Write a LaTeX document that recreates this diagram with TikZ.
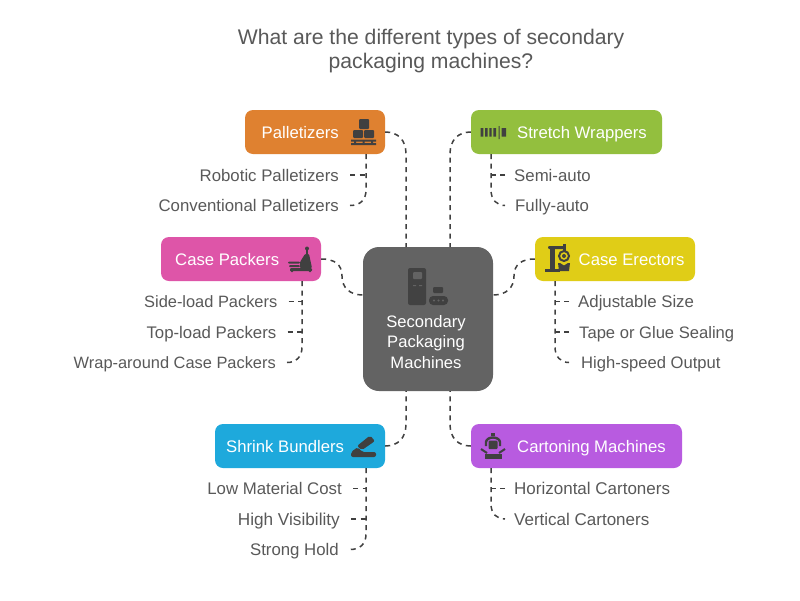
\documentclass[tikz,border=0pt]{standalone}
\usepackage{fontspec}
\setmainfont{Liberation Sans}
\definecolor{txt}{HTML}{595959}
\definecolor{ink}{HTML}{404040}
\definecolor{cOrange}{HTML}{DF8130}
\definecolor{cGreen}{HTML}{93BF3E}
\definecolor{cPink}{HTML}{DE55A8}
\definecolor{cYellow}{HTML}{E0CD17}
\definecolor{cBlue}{HTML}{1EA9DC}
\definecolor{cPurple}{HTML}{B85BE0}
\definecolor{cCentre}{HTML}{636363}
\tikzset{
 box/.style={rounded corners=8pt,inner sep=0pt,minimum height=44pt},
 boxtext/.style={text=white,inner sep=0pt,text height=12pt,text depth=0pt,font=\fontsize{16.7}{20}\selectfont},
 itemL/.style={text=txt,anchor=east,inner sep=0pt,inner xsep=11pt,text height=12pt,text depth=0pt,font=\fontsize{16.8}{20}\selectfont},
 itemR/.style={text=txt,anchor=west,inner sep=0pt,inner xsep=9pt,text height=12pt,text depth=0pt,font=\fontsize{16.8}{20}\selectfont},
 conn/.style={draw=ink,line width=1.5pt,dash pattern=on 5pt off 4.5pt},
 icon/.style={fill=ink,draw=none},
}
\begin{document}
\begin{tikzpicture}[x=1pt,y=-1pt]
\useasboundingbox (0,0) rectangle (800,600);
\fill[white] (0,0) rectangle (800,600);
\node[text=txt,align=center,font=\fontsize{21.15}{24}\selectfont] (title) at (431,51) {What are the different types of secondary\\packaging machines?};
\node[box,fill=cCentre,rounded corners=16pt,minimum width=130pt,minimum height=144pt] (c) at (428,319) {};
\node[box,fill=cOrange,minimum width=140pt] (pal) at (315,132) {};
\node[box,fill=cGreen,minimum width=191pt] (str) at (566.5,132) {};
\node[box,fill=cPink,minimum width=160pt] (pac) at (241,259) {};
\node[box,fill=cYellow,minimum width=160pt] (ere) at (615,259) {};
\node[box,fill=cBlue,minimum width=170pt] (shr) at (300,446) {};
\node[box,fill=cPurple,minimum width=211pt] (car) at (576.5,446) {};
\node[boxtext,anchor=west] (palT) at (261.5,132) {Palletizers};
\node[boxtext,anchor=west] (strT) at (517,132) {Stretch Wrappers};
\node[boxtext,anchor=west] (pacT) at (175,259) {Case Packers};
\node[boxtext,anchor=west] (ereT) at (578.5,259) {Case Erectors};
\node[boxtext,anchor=west] (shrT) at (226,446) {Shrink Bundlers};
\node[boxtext,anchor=west] (carT) at (517,446) {Cartoning Machines};
\node[text=white,align=center,inner sep=0pt,font=\fontsize{16.6}{20.4}\selectfont] (cT) at (426,342) {Secondary\\Packaging\\Machines};
% items
\node[itemL] (p1) at (350,175) {Robotic Palletizers};
\node[itemL] (p2) at (350,205.5) {Conventional Palletizers};
\node[itemR] (s1) at (505,175) {Semi-auto};
\node[itemR,inner xsep=10pt] (s2) at (505,205.5) {Fully-auto};
\node[itemL,font=\fontsize{16.4}{20}\selectfont] (k1) at (288.5,301.5) {Side-load Packers};
\node[itemL] (k2) at (287.5,332) {Top-load Packers};
\node[itemL,font=\fontsize{16.4}{20}\selectfont] (k3) at (287,362.5) {Wrap-around Case Packers};
\node[itemR] (e1) at (569,301.5) {Adjustable Size};
\node[itemR,inner xsep=10pt,font=\fontsize{16.6}{20}\selectfont] (e2) at (569,332) {Tape or Glue Sealing};
\node[itemR,inner xsep=12pt,font=\fontsize{16.6}{20}\selectfont] (e3) at (569,362.5) {High-speed Output};
\node[itemL] (b1) at (353,488.5) {Low Material Cost};
\node[itemL,font=\fontsize{17.2}{20}\selectfont] (b2) at (351,519) {High Visibility};
\node[itemL] (b3) at (350,549.5) {Strong Hold};
\node[itemR,font=\fontsize{17}{20}\selectfont] (h1) at (505,488.5) {Horizontal Cartoners};
\node[itemR,font=\fontsize{17}{20}\selectfont] (h2) at (505,519) {Vertical Cartoners};
% connector anchors
\coordinate (cA) at (406,247);
\coordinate (cB) at (450,247);
\coordinate (cC) at (406,391);
\coordinate (cD) at (450,391);
\coordinate (cW) at (363,295);
\coordinate (cE) at (493,295);
\coordinate (palS) at (366,154);
\coordinate (strS) at (491,154);
\coordinate (pacS) at (302,281);
\coordinate (ereS) at (555,281);
\coordinate (shrS) at (366,468);
\coordinate (carS) at (491,468);
% main connectors
\draw[conn] (pal.east) .. controls (398,132) and (406,140) .. (406,154) -- (cA);
\draw[conn] (str.west) .. controls (458,132) and (450,140) .. (450,154) -- (cB);
\draw[conn] (pac.east) .. controls (334,259) and (342,264) .. (342,276) .. controls (342,288) and (350,295) .. (cW);
\draw[conn] (ere.west) .. controls (522,259) and (514,264) .. (514,276) .. controls (514,288) and (506,295) .. (cE);
\draw[conn] (shr.east) .. controls (398,446) and (406,438) .. (406,424) -- (cC);
\draw[conn] (car.west) .. controls (458,446) and (450,438) .. (450,424) -- (cD);
% child connectors
\draw[conn] (palS) -- (366,190) .. controls (366,200) and (360,205.5) .. (p2.east);
\draw[conn] (p1.east) -- (366,175);
\draw[conn] (strS) -- (491,190) .. controls (491,200) and (497,205.5) .. (s2.west);
\draw[conn] (s1.west) -- (491,175);
\draw[conn] (pacS) -- (302,347) .. controls (302,357) and (296,362.5) .. (k3.east);
\draw[conn] (k1.east) -- (302,301.5);
\draw[conn] (k2.east) -- (302,332);
\draw[conn] (ereS) -- (555,347) .. controls (555,357) and (561,362.5) .. (e3.west);
\draw[conn] (e1.west) -- (555,301.5);
\draw[conn] (e2.west) -- (555,332);
\draw[conn] (shrS) -- (366,534) .. controls (366,544) and (360,549.5) .. (b3.east);
\draw[conn] (b1.east) -- (366,488.5);
\draw[conn] (b2.east) -- (366,519);
\draw[conn] (carS) -- (491,504) .. controls (491,514) and (497,519) .. (h2.west);
\draw[conn] (h1.west) -- (491,488.5);
% icon: palletizers
\fill[icon,rounded corners=1pt] (359,119) rectangle (369,129);
\fill[icon,rounded corners=1pt] (353,130) rectangle (363,138);
\fill[icon,rounded corners=1pt] (364,130) rectangle (374,138);
\fill[icon] (351,139.5) rectangle (376,141.5) (351,143) rectangle (376,145);
\fill[icon] (354,141) rectangle (356,144) (362.5,141) rectangle (364.5,144) (371,141) rectangle (373,144);
% icon: stretch
\fill[icon] (480.7,128) rectangle (483.3,136.7) (485,128) rectangle (487.7,136.7) (489.3,128) rectangle (491.7,136.7) (493.3,128) rectangle (496,136.7) (498.6,126) rectangle (499.6,139) (501.7,128) rectangle (506,136.7);
% icon: case packers
\fill[icon] (307,248.5) circle (2);
\fill[icon] (305.8,250) rectangle (308.2,255);
\fill[icon,rounded corners=1pt] (305,254) -- (309,254) -- (312,268) -- (300,268) -- (300,262) -- cycle;
\fill[icon,rounded corners=1pt] (288,261.5) rectangle (300,263.5) (289,265) rectangle (300,267);
\fill[icon,rounded corners=1pt] (290,268) rectangle (312,271);
\fill[icon] (292,270.5) circle (1.8) (310,270.5) circle (1.8);
% icon: case erectors
\fill[icon] (545,269) rectangle (560,271.5);
\fill[icon] (550,248) rectangle (554.5,270);
\fill[icon,rounded corners=1pt] (548,246) rectangle (565,249);
\draw[ink,line width=2pt] (564,256) circle (5);
\fill[icon] (564,256) circle (2);
\fill[icon] (562.5,244) rectangle (565.5,251);
\fill[icon] (558,263) -- (560,263) -- (564,265.5) -- (568,263) -- (570,263) -- (569,271) -- (559,271) -- cycle;
% icon: shrink
\fill[icon,rounded corners=2pt] (351,452) -- (358,447) -- (362,452) -- (376,452) -- (376,457) -- (351,457) -- cycle;
\fill[icon,rounded corners=2pt] (357,446) -- (370,435.5) -- (375,441) -- (362,450) -- cycle;
% icon: cartoning
\draw[ink,line width=2.4pt] (486,446) -- (486,442) .. controls (487,436) and (499,436) .. (500,442) -- (500,446);
\fill[icon] (491,432.5) rectangle (495,436);
\fill[icon,rounded corners=1pt] (488.5,440.5) rectangle (497.5,449);
\fill[icon] (485,454) rectangle (502,458.5);
\draw[ink,line width=2pt] (481,449) -- (487,453) (505,449) -- (499,453);
% icon: centre
\fill[ink!95!cCentre,rounded corners=2pt] (408,268) rectangle (426,305);
\fill[cCentre,rounded corners=1pt] (413,272) rectangle (422,279);
\fill[cCentre] (413,285) rectangle (416,286) (419,285) rectangle (422,286);
\fill[icon,rounded corners=1pt] (433,287) rectangle (443,293);
\fill[icon,rounded corners=4pt] (429,296) rectangle (448,305);
\fill[cCentre] (434,300.5) circle (1.2) (438.5,300.5) circle (1.2) (443,300.5) circle (1.2);
\end{tikzpicture}
\end{document}
